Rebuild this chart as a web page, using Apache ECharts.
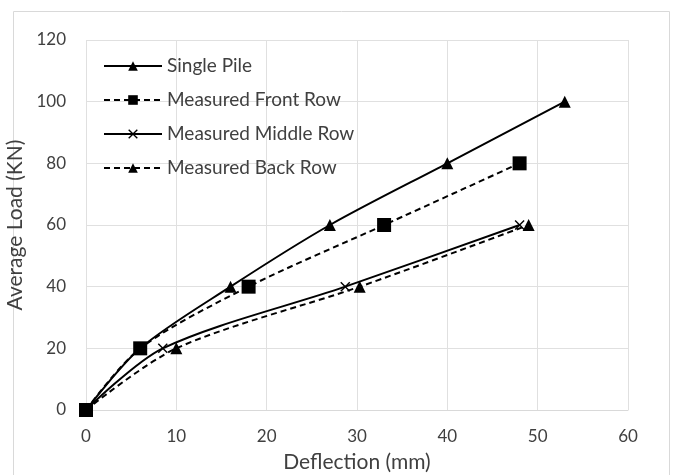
<!DOCTYPE html>
<html>
<head>
<meta charset="utf-8">
<script src="https://cdn.jsdelivr.net/npm/echarts@6/dist/echarts.min.js"></script>
<style>
  html, body { margin: 0; padding: 0; background: #fff; }
  #charts { width: 677px; height: 475px; }
</style>
</head>
<body>
<div id="charts"></div>
<script>
"use strict";

// data: [deflection (mm), load (kN)]
var single_pile = [[0, 0], [6, 20], [16, 40], [27, 60], [40, 80], [53, 100]];
var front_row = [[0, 0], [6, 20], [18, 40], [33, 60], [48, 80]];
var middle_row = [[0, 0], [8.5, 20], [28.7, 40], [48, 60]];
var back_row = [[0, 0], [10, 20], [30.3, 40], [49, 60]];

var series_names = ['Single Pile', 'Measured Front Row', 'Measured Middle Row', 'Measured Back Row'];

var cross_symbol = 'path://M0,1L1,0L5,4L9,0L10,1L6,5L10,9L9,10L5,6L1,10L0,9L4,5Z';
var font = 'Lato, "Open Sans", sans-serif';

var dom = document.getElementById("charts");
var myChart = echarts.init(dom);

function make_series(name, data, symbol, size, dashed) {
    return {
        name: name,
        type: 'line',
        data: data,
        smooth: 0.3,
        symbol: symbol,
        symbolSize: size,
        showAllSymbol: true,
        itemStyle: { color: '#000' },
        lineStyle: {
            color: '#000',
            width: 2,
            type: dashed ? [6, 4] : 'solid'
        },
        emphasis: { disabled: true }
    };
}

var option = {
    animation: false,
    textStyle: { fontFamily: font },
    graphic: [{
        type: 'rect',
        shape: { x: 13.5, y: 11.5, width: 656, height: 470 },
        style: { fill: 'none', stroke: '#d9d9d9', lineWidth: 1 },
        silent: true
    }],
    legend: {
        data: series_names,
        orient: 'vertical',
        left: 98,
        top: 51,
        itemWidth: 58,
        itemHeight: 12,
        itemGap: 14,
        textStyle: { color: '#404040', fontSize: 19, lineHeight: 20, fontFamily: font }
    },
    grid: {
        left: 86,
        right: 49,
        top: 40,
        bottom: 65,
        containLabel: false,
        outerBoundsMode: 'none'
    },
    xAxis: {
        type: 'value',
        min: 0,
        max: 60,
        interval: 10,
        name: 'Deflection (mm)',
        nameLocation: 'middle',
        nameGap: 42,
        nameTextStyle: { color: '#404040', fontSize: 21, fontFamily: font },
        axisLine: { show: true, lineStyle: { color: '#d9d9d9' } },
        axisTick: { show: false },
        axisLabel: { color: '#404040', fontSize: 17, margin: 18, fontFamily: font },
        splitLine: { show: true, lineStyle: { color: '#e0e0e0' } }
    },
    yAxis: {
        type: 'value',
        min: 0,
        max: 120,
        interval: 20,
        name: 'Average Load (KN)',
        nameLocation: 'middle',
        nameGap: 42,
        nameTextStyle: { color: '#404040', fontSize: 21, fontFamily: font },
        axisLine: { show: false },
        axisTick: { show: false },
        axisLabel: { color: '#404040', fontSize: 17, margin: 20, fontFamily: font },
        splitLine: { show: true, lineStyle: { color: '#e0e0e0' } }
    },
    series: [
        make_series(series_names[0], single_pile, 'triangle', 12, false),
        make_series(series_names[1], front_row, 'rect', 14, true),
        make_series(series_names[2], middle_row, cross_symbol, 10, false),
        make_series(series_names[3], back_row, 'triangle', 12, true)
    ]
};

if (option && typeof option === "object") {
    myChart.setOption(option, true);
}
</script>
</body>
</html>
